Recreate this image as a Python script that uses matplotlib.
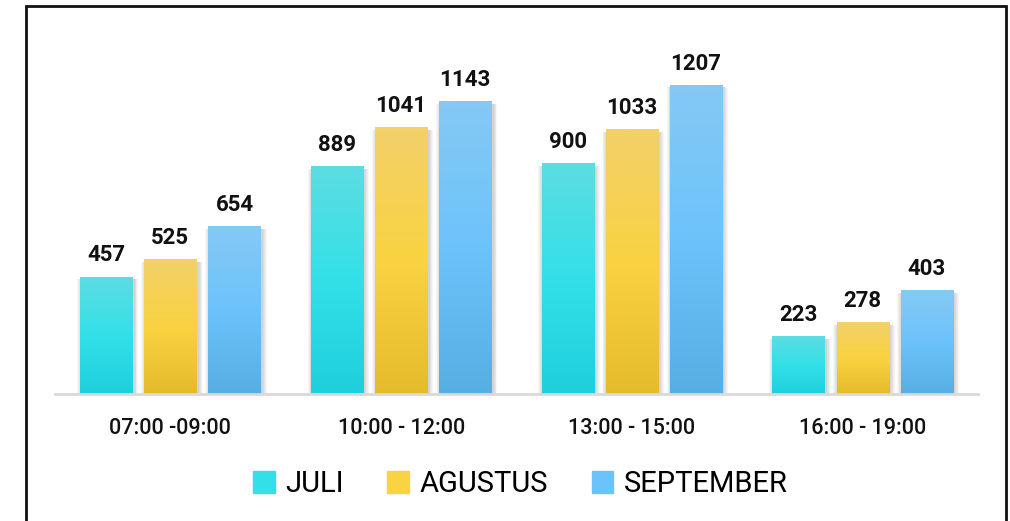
import numpy as np
import matplotlib
matplotlib.use('Agg')
import matplotlib.pyplot as plt
from matplotlib.patches import Rectangle
from matplotlib.colors import LinearSegmentedColormap

kategori = ['07:00 -09:00', '10:00 - 12:00', '13:00 - 15:00', '16:00 - 19:00']
bulan = ['JULI', 'AGUSTUS', 'SEPTEMBER']
juli = [457, 889, 900, 223]
agustus = [525, 1041, 1033, 278]
september = [654, 1143, 1207, 403]

# warna gradasi: atas, tengah, bawah
gradasi = [
    ['#5CDDE2', '#33E0E8', '#1ECFDC'],
    ['#F3D06A', '#F9D341', '#E5BB2C'],
    ['#85C9F4', '#6CC3FB', '#56AEE3'],
]

plt.rcParams['font.family'] = ['Roboto', 'DejaVu Sans']

fig = plt.figure(figsize=(10.1, 5.21), dpi=100)
W, H = 1010, 521
ax = fig.add_axes([55 / W, (H - 394) / H, (978 - 55) / W, (394 - 6) / H])

ymax = 388 / 0.2558
ax.set_xlim(-0.5, 3.5)
ax.set_ylim(0, ymax)

lebar = 0.226
jarak = 0.278
x = np.arange(len(kategori))
data = [juli, agustus, september]

for i, (nilai, warna) in enumerate(zip(data, gradasi)):
    cmap = LinearSegmentedColormap.from_list('g%d' % i, warna[::-1])
    pos = x + (i - 1) * jarak
    # bayangan
    for k in range(1, 6):
        ax.bar(pos + 0.006, nilai, width=lebar + 0.008 * k, bottom=-8,
               color='#000000', alpha=0.035, zorder=1, linewidth=0)
    bars = ax.bar(pos, nilai, width=lebar, color='none', zorder=2, linewidth=0,
                  label=bulan[i])
    for b, v in zip(bars, nilai):
        grad = np.linspace(0, 1, 256).reshape(-1, 1)
        x0 = b.get_x()
        ax.imshow(grad, cmap=cmap, aspect='auto', origin='lower',
                  extent=[x0, x0 + lebar, 0, v], zorder=3)
        ax.text(x0 + lebar / 2, v + 42, str(v), ha='center', va='bottom',
                fontsize=16, fontweight='semibold', color='#111111', zorder=4)

ax.set_xlim(-0.5, 3.5)
ax.set_ylim(0, ymax)

for s in ['top', 'right', 'left']:
    ax.spines[s].set_visible(False)
ax.spines['bottom'].set_color('#D9D9D9')
ax.spines['bottom'].set_linewidth(2)
ax.spines['bottom'].set_zorder(5)
ax.set_yticks([])
ax.set_xticks(x)
ax.set_xticklabels(kategori, fontsize=15.5, fontweight='medium', color='#111111')
ax.tick_params(axis='x', length=0, pad=17)

# legenda
handles = [Rectangle((0, 0), 1, 1, color=g[1]) for g in gradasi]
fig.legend(handles, bulan, loc='center', bbox_to_anchor=(0.515, (H - 484) / H),
           ncol=3, frameon=False, fontsize=21, handlelength=0.75,
           handleheight=0.75, handletextpad=0.35, columnspacing=1.5)

# bingkai
fig.patches.append(Rectangle((26 / W, -0.05), (1006 - 26) / W, 1.05 - 6 / H,
                             transform=fig.transFigure, fill=False,
                             edgecolor='#111111', linewidth=2))

fig.savefig('out.png', dpi=100)
